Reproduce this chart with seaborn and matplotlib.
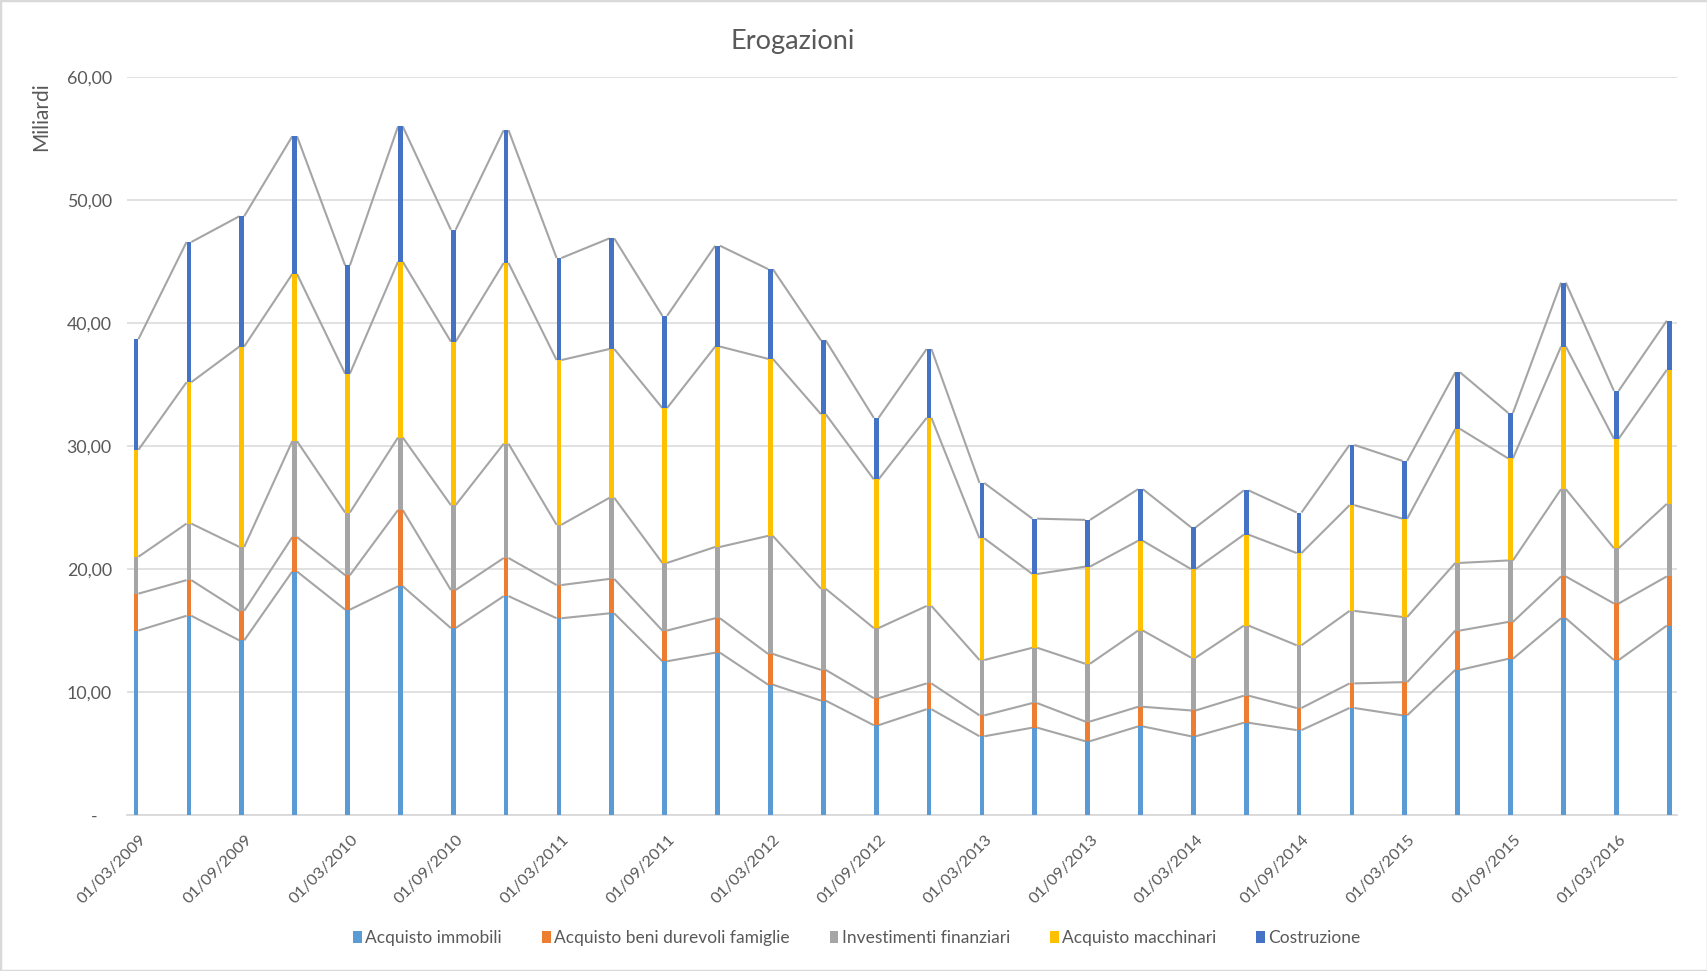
import numpy as np
import pandas as pd
import matplotlib
matplotlib.use("Agg")
import matplotlib.pyplot as plt
import matplotlib.transforms as mtransforms
from matplotlib.patches import Patch, Rectangle
import seaborn as sns

# ---------------- data ----------------
dates = ["01/03/2009", "01/06/2009", "01/09/2009", "01/12/2009",
         "01/03/2010", "01/06/2010", "01/09/2010", "01/12/2010",
         "01/03/2011", "01/06/2011", "01/09/2011", "01/12/2011",
         "01/03/2012", "01/06/2012", "01/09/2012", "01/12/2012",
         "01/03/2013", "01/06/2013", "01/09/2013", "01/12/2013",
         "01/03/2014", "01/06/2014", "01/09/2014", "01/12/2014",
         "01/03/2015", "01/06/2015", "01/09/2015", "01/12/2015",
         "01/03/2016", "01/06/2016"]

acquisto_immobili = [15.0, 16.2, 14.2, 19.8, 16.7, 18.6, 15.2, 17.8, 16.0, 16.4,
                     12.5, 13.2, 10.6, 9.3, 7.3, 8.6, 6.4, 7.1, 6.0, 7.2,
                     6.4, 7.5, 6.9, 8.7, 8.1, 11.8, 12.7, 16.0, 12.6, 15.4]
beni_durevoli = [3.0, 2.9, 2.4, 2.8, 2.8, 6.2, 3.1, 3.1, 2.7, 2.8,
                 2.5, 2.8, 2.5, 2.5, 2.2, 2.1, 1.7, 2.0, 1.6, 1.6,
                 2.1, 2.2, 1.8, 2.0, 2.7, 3.2, 3.0, 3.4, 4.6, 4.0]
investimenti_finanziari = [3.0, 4.6, 5.2, 7.8, 5.1, 5.9, 6.9, 9.3, 4.9, 6.6,
                           5.5, 5.8, 9.6, 6.6, 5.7, 6.3, 4.5, 4.5, 4.7, 6.2,
                           4.3, 5.7, 5.1, 5.9, 5.3, 5.5, 5.0, 7.1, 4.5, 5.9]
acquisto_macchinari = [8.7, 11.5, 16.3, 13.6, 11.3, 14.3, 13.3, 14.7, 13.4, 12.1,
                       12.6, 16.3, 14.4, 14.2, 12.1, 15.3, 9.9, 6.0, 7.9, 7.3,
                       7.2, 7.4, 7.5, 8.6, 8.0, 10.9, 8.3, 11.6, 8.9, 10.9]
costruzione = [9.0, 11.4, 10.6, 11.2, 8.8, 11.0, 9.1, 10.8, 8.3, 9.0,
               7.5, 8.2, 7.3, 6.0, 5.0, 5.6, 4.5, 4.5, 3.8, 4.2,
               3.4, 3.6, 3.3, 4.9, 4.7, 4.6, 3.7, 5.2, 3.9, 4.0]

series_names = ["Acquisto immobili", "Acquisto beni durevoli famiglie",
                "Investimenti finanziari", "Acquisto macchinari", "Costruzione"]
series_values = [acquisto_immobili, beni_durevoli, investimenti_finanziari,
                 acquisto_macchinari, costruzione]
series_colors = ["#5B9BD5", "#ED7D31", "#A5A5A5", "#FFC000", "#4472C4"]

y_ticks = [0, 10, 20, 30, 40, 50, 60]
y_tick_labels = ["-", "10,00", "20,00", "30,00", "40,00", "50,00", "60,00"]

# ---------------- plot ----------------
sns.set_theme(style="white")
plt.rcParams["font.family"] = ["Lato", "DejaVu Sans"]
txt = "#595959"

fig = plt.figure(figsize=(17.08, 9.71), dpi=100)
ax = fig.add_axes([0.0744, 0.1607, 0.9075, 0.7597])

df = pd.DataFrame({"data": dates})
cum = np.zeros(len(dates))
cums = []
for vals in series_values:
    cum = cum + np.array(vals)
    cums.append(cum.copy())

bar_w = 0.09
# draw tallest cumulative first so lower ones overlay
for name, col, c in reversed(list(zip(series_names, series_colors, cums))):
    df["v"] = c
    sns.barplot(data=df, x="data", y="v", color=col, saturation=1,
                width=bar_w, errorbar=None, linewidth=0, ax=ax, zorder=3)

# series lines connecting the tops of each segment
xs = np.arange(len(dates))
for c in cums:
    lx, ly = [], []
    for i in range(len(dates) - 1):
        lx += [xs[i] + bar_w / 2, xs[i + 1] - bar_w / 2, np.nan]
        ly += [c[i], c[i + 1], np.nan]
    ax.plot(lx, ly, color="#A5A5A5", lw=1.5, zorder=2, solid_capstyle="butt")

ax.set_xlim(-0.17, len(dates) - 1 + 0.15)
ax.set_ylim(0, 60)
ax.set_yticks(y_ticks)
ax.set_yticklabels(y_tick_labels, color=txt, fontsize=12.8)
ax.yaxis.grid(True, color="#D9D9D9", lw=1.1)
ax.set_axisbelow(True)
for s in ["left", "right", "top"]:
    ax.spines[s].set_visible(False)
ax.spines["bottom"].set_color("#D9D9D9")
ax.spines["bottom"].set_linewidth(1.3)
ax.tick_params(axis="both", length=0)
ax.tick_params(axis="y", pad=11)
ax.set_xlabel("")
ax.set_ylabel("")

ax.set_xticks(xs[::2])
ax.set_xticklabels([dates[i] for i in xs[::2]], rotation=45, ha="right",
                   va="center", rotation_mode="anchor", color=txt, fontsize=11.8)
ax.tick_params(axis="x", pad=16)
off = mtransforms.ScaledTranslation(8 / 100, 0, fig.dpi_scale_trans)
for lbl in ax.get_xticklabels():
    lbl.set_transform(lbl.get_transform() + off)
zero_off = mtransforms.ScaledTranslation(-14 / 100, 0, fig.dpi_scale_trans)
ylbls = ax.get_yticklabels()
ylbls[0].set_transform(ylbls[0].get_transform() + zero_off)

fig.text(0.464, 1 - 41 / 971, "Erogazioni", ha="center", va="center",
         fontsize=19.5, color=txt)
fig.text(41 / 1708, 1 - 117 / 971, "Miliardi", ha="center", va="center",
         rotation=90, fontsize=15, color=txt)

handles = [Patch(facecolor=c, edgecolor="none") for c in series_colors]
fig.legend(handles, series_names, loc="center", bbox_to_anchor=(0.5017, 1 - 938 / 971),
           ncol=5, frameon=False, fontsize=12.5, handlelength=0.5, handleheight=0.65,
           handletextpad=0.2, columnspacing=2.3, labelcolor=txt)

fig.patches.append(Rectangle((0, 0), 1, 1, transform=fig.transFigure, fill=False,
                             edgecolor="#D9D9D9", lw=2.5))

fig.savefig("out.png", dpi=100, facecolor="white")
